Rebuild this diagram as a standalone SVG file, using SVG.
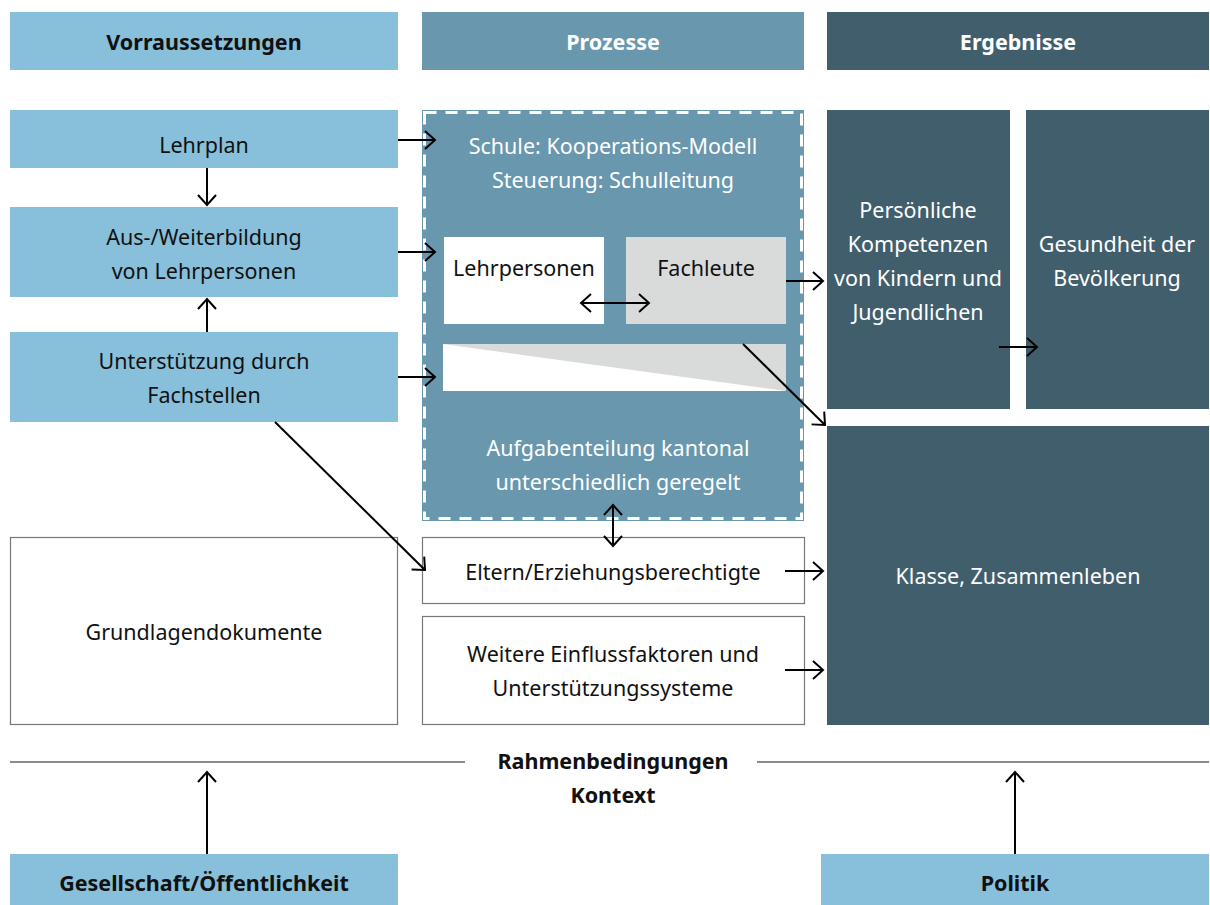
<svg xmlns="http://www.w3.org/2000/svg" width="1210" height="905" viewBox="0 0 1210 905">
<defs>
<marker id="ah" markerUnits="userSpaceOnUse" markerWidth="14" markerHeight="20" refX="11" refY="10" orient="auto-start-reverse">
<path d="M1,1 L11,10 L1,19" fill="none" stroke="#000" stroke-width="2"/>
</marker>
<style>
.t{font-family:"Noto Sans","Open Sans",sans-serif;font-size:21.5px;text-anchor:middle;fill:#111}
.w{fill:#fff}
.b{font-weight:bold;font-size:21.5px}
.lb{fill:#88bfdb}
.mb{fill:#6897ae}
.db{fill:#415e6d}
.box{fill:#fff;stroke:#777;stroke-width:1.2}
.c{stroke:#000;stroke-width:2;fill:none;marker-end:url(#ah)}
.c2{stroke:#000;stroke-width:2;fill:none;marker-end:url(#ah);marker-start:url(#ah)}
</style>
</defs>
<rect width="1210" height="905" fill="#fff"/>

<g id="h-vor"><rect class="lb" x="10" y="12" width="388" height="58"/><text class="t b" x="204" y="50">Vorraussetzungen</text></g>
<g id="h-pro"><rect class="mb" x="422" y="12" width="382" height="58"/><text class="t b w" x="613" y="50">Prozesse</text></g>
<g id="h-erg"><rect class="db" x="827" y="12" width="382" height="58"/><text class="t b w" x="1018" y="50">Ergebnisse</text></g>

<g id="lehrplan"><rect class="lb" x="10" y="110" width="388" height="58"/><text class="t" x="204" y="153">Lehrplan</text></g>
<g id="ausbildung"><rect class="lb" x="10" y="207" width="388" height="90"/><text class="t" x="204" y="245">Aus-/Weiterbildung</text><text class="t" x="204" y="279">von Lehrpersonen</text></g>
<g id="unterstuetzung"><rect class="lb" x="10" y="332" width="388" height="90"/><text class="t" x="204" y="369">Unterstützung durch</text><text class="t" x="204" y="403">Fachstellen</text></g>
<g id="grundlagen"><rect class="box" x="10.5" y="537.5" width="387" height="187"/><text class="t" x="204" y="640">Grundlagendokumente</text></g>

<g id="schule">
<rect class="mb" x="422" y="110" width="382" height="411"/>
<rect x="424.5" y="112.5" width="377" height="406" fill="none" stroke="#fff" stroke-width="3" stroke-dasharray="12 9"/>
<text class="t w" x="613" y="154">Schule: Kooperations-Modell</text>
<text class="t w" x="613" y="188">Steuerung: Schulleitung</text>
<text class="t w" x="618" y="456">Aufgabenteilung kantonal</text>
<text class="t w" x="618" y="490">unterschiedlich geregelt</text>
</g>
<g id="lehrpersonen"><rect fill="#fff" x="444" y="237" width="160" height="87"/><text class="t" x="524" y="276">Lehrpersonen</text></g>
<g id="fachleute"><rect fill="#d9dbdb" x="626" y="237" width="160" height="87"/><text class="t" x="706" y="276">Fachleute</text></g>
<g id="strip"><rect fill="#fff" x="443" y="344" width="343" height="47"/><polygon fill="#d9dbdb" points="443,344 786,344 786,391"/></g>

<g id="eltern"><rect class="box" x="422.5" y="537.5" width="382" height="66"/><text class="t" x="613" y="580">Eltern/Erziehungsberechtigte</text></g>
<g id="weitere"><rect class="box" x="422.5" y="616.5" width="382" height="108"/><text class="t" x="613" y="662">Weitere Einflussfaktoren und</text><text class="t" x="613" y="696">Unterstützungssysteme</text></g>

<g id="persoenlich"><rect class="db" x="827" y="110" width="183" height="299"/>
<text class="t w" x="918" y="218">Persönliche</text><text class="t w" x="918" y="252">Kompetenzen</text><text class="t w" x="918" y="286">von Kindern und</text><text class="t w" x="918" y="320">Jugendlichen</text></g>
<g id="gesundheit"><rect class="db" x="1026" y="110" width="183" height="299"/>
<text class="t w" x="1117" y="252">Gesundheit der</text><text class="t w" x="1117" y="286">Bevölkerung</text></g>
<g id="klasse"><rect class="db" x="827" y="426" width="382" height="299"/><text class="t w" x="1018" y="584">Klasse, Zusammenleben</text></g>

<g id="rahmen">
<line x1="10" y1="762" x2="465" y2="762" stroke="#666" stroke-width="1.5"/>
<line x1="757" y1="762" x2="1209" y2="762" stroke="#666" stroke-width="1.5"/>
<text class="t b" x="613" y="769">Rahmenbedingungen</text>
<text class="t b" x="613" y="803">Kontext</text>
</g>
<g id="gesellschaft"><rect class="lb" x="10" y="854" width="388" height="51"/><text class="t b" x="204" y="891">Gesellschaft/Öffentlichkeit</text></g>
<g id="politik"><rect class="lb" x="821" y="854" width="388" height="51"/><text class="t b" x="1015" y="891">Politik</text></g>

<g id="connectors">
<line class="c" x1="398" y1="140" x2="435" y2="140"/>
<line class="c" x1="398" y1="252" x2="435" y2="252"/>
<line class="c" x1="398" y1="377" x2="435" y2="377"/>
<line class="c" x1="207" y1="168" x2="207" y2="205"/>
<line class="c" x1="207" y1="332" x2="207" y2="299"/>
<line class="c2" x1="581" y1="303" x2="649" y2="303"/>
<line class="c" x1="786" y1="281" x2="823" y2="281"/>
<line class="c" x1="743" y1="344" x2="825" y2="425"/>
<line class="c" x1="275" y1="422" x2="425" y2="570"/>
<line class="c2" x1="613" y1="505" x2="613" y2="546"/>
<line class="c" x1="785" y1="571" x2="823" y2="571"/>
<line class="c" x1="785" y1="670" x2="823" y2="670"/>
<line class="c" x1="999" y1="347" x2="1037" y2="347"/>
<line class="c" x1="207" y1="854" x2="207" y2="772"/>
<line class="c" x1="1015" y1="854" x2="1015" y2="772"/>
</g>
</svg>
